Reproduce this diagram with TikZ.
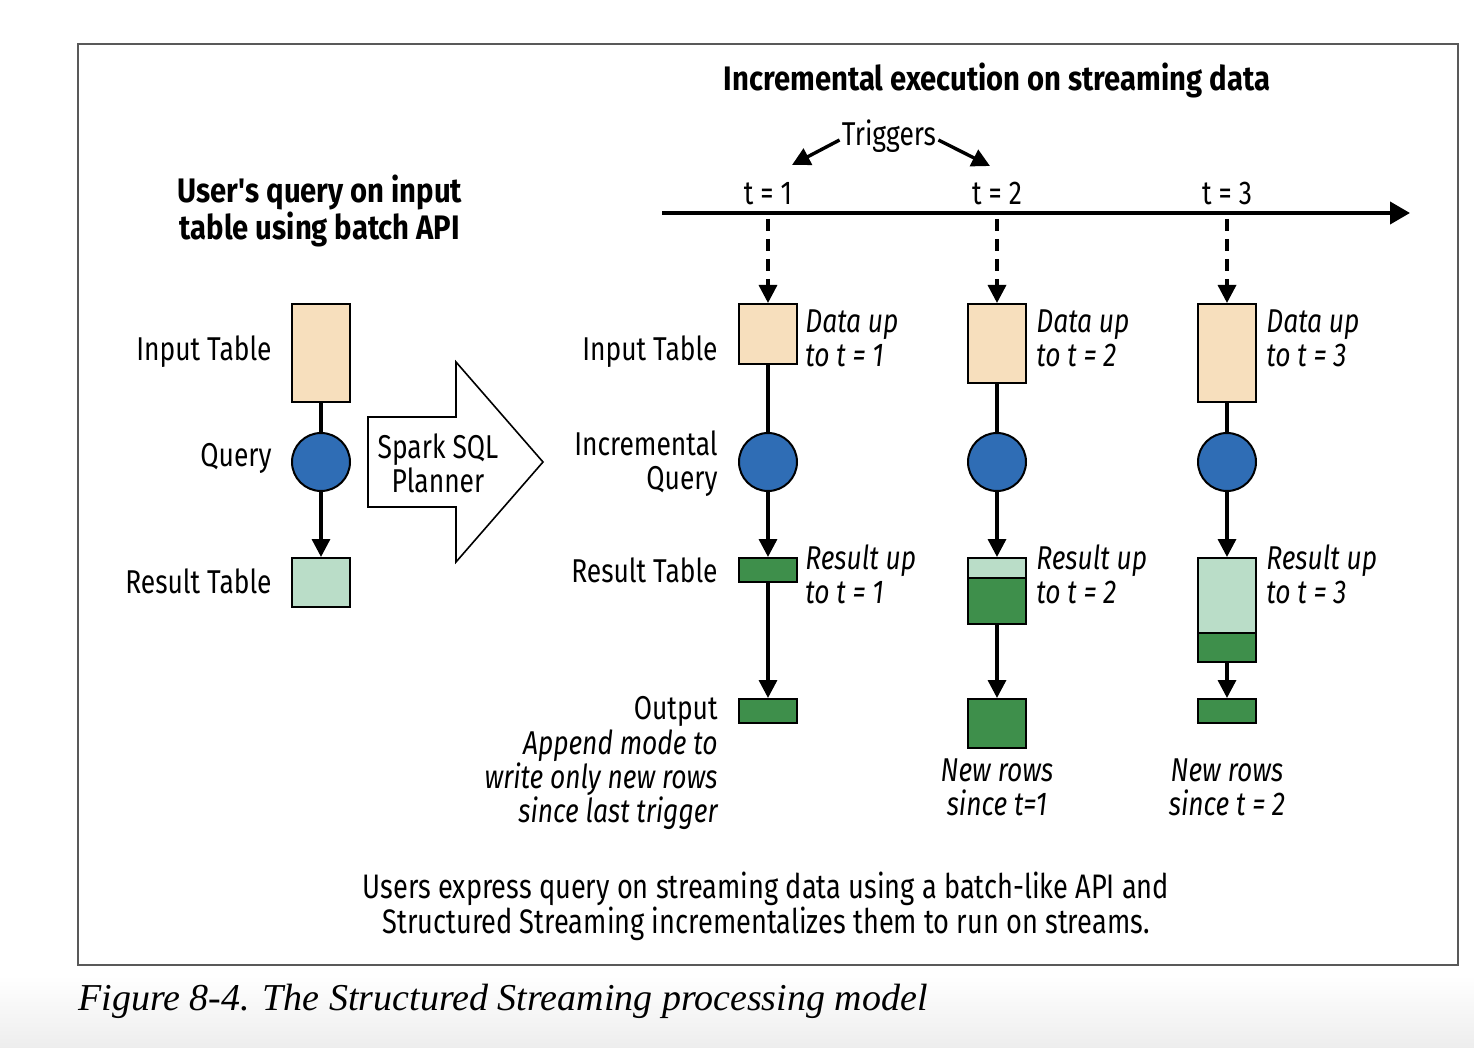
\documentclass[tikz,border=0pt]{standalone}
\usepackage{fontspec}
\setmainfont{Fira Sans}[FakeStretch=0.8]
\newfontfamily\headfont{Fira Sans}[FakeStretch=0.86]
\newfontfamily\capfont{Liberation Serif}
\usetikzlibrary{arrows.meta,positioning}
\definecolor{inputc}{HTML}{F7DFBD}
\definecolor{queryc}{HTML}{2F6DB5}
\definecolor{oldrow}{HTML}{BADDC8}
\definecolor{newrow}{HTML}{3E8F4B}

\tikzset{
  lbl/.style={inner sep=0pt,font=\fontsize{16.5}{17}\selectfont},
  head/.style={inner sep=0pt,font=\headfont\bfseries\fontsize{17}{17.5}\selectfont},
  note/.style={inner sep=0pt,font=\fontsize{16.5}{17}\selectfont\itshape,align=left},
  tbl/.style={draw,line width=1pt,minimum width=29pt,inner sep=0pt,anchor=north},
  qry/.style={draw,circle,line width=1pt,fill=queryc,minimum size=29pt,inner sep=0pt},
  flow/.style={line width=1.7pt},
  tip/.style={-{Triangle[length=9pt,width=9pt]}},
  trigline/.style={flow,tip,dash pattern=on 6pt off 4pt},
}

\begin{document}
\begin{tikzpicture}[x=0.5pt,y=-0.5pt]
\useasboundingbox (0,0) rectangle (1474,1048);
\shade[top color=white,bottom color=gray!14] (0,975) rectangle (1474,1048);
\draw[gray!70!black,line width=0.6pt] (78,44) rectangle (1458,965);

% batch side
\node[head,align=center] (batchttl) at (320,211) {User's query on input\\table using batch API};
\node[tbl,fill=inputc,minimum height=49pt] (bin) at (321,303) {};
\node[qry] (bq) at (321,462) {};
\node[tbl,fill=oldrow,minimum height=24.5pt] (bres) at (321,557) {};
\node[lbl,anchor=east] (binl) at (272,352) {Input Table};
\node[lbl,anchor=east] (bql) at (272,458) {Query};
\node[lbl,anchor=east] (bresl) at (272,581) {Result Table};
\draw[flow] (bin) -- (bq);
\draw[flow,tip] (bq) -- (bres);

% planner arrow
\draw[line width=0.8pt,fill=white] (368,417) -- (456,417) -- (456,362) -- (543,462)
  -- (456,562) -- (456,507) -- (368,507) -- cycle;
\node[lbl,align=center] (planner) at (438,463) {Spark SQL\\Planner};

% streaming side
\node[head] (streamttl) at (997,80) {Incremental execution on streaming data};
\coordinate (tstart) at (662,213);
\coordinate (tend) at (1410,213);
\draw[line width=2pt,-{Triangle[length=10pt,width=11pt]}] (tstart) -- (tend);
\node[lbl,anchor=south] (t1) at (768,205) {t = 1};
\node[lbl,anchor=south] (t2) at (997,205) {t = 2};
\node[lbl,anchor=south] (t3) at (1227,205) {t = 3};
\node[lbl] (trig) at (889,136) {Triggers};
\coordinate (trigL) at (792,165);
\coordinate (trigR) at (990,166);
\draw[flow,tip] ([xshift=-1pt,yshift=-2pt]trig.west) -- (trigL);
\draw[flow,tip] ([xshift=1pt,yshift=-2pt]trig.east) -- (trigR);

\node[lbl,anchor=east] (inl) at (718,352) {Input Table};
\node[lbl,anchor=east,align=right] (ql) at (718,464) {Incremental\\Query};
\node[lbl,anchor=east] (resl) at (718,570) {Result Table};
\node[lbl,anchor=east] (outl) at (718,711) {Output};
\node[note,anchor=east,align=right] (appendl) at (718,780) {Append mode to\\write only new rows\\since last trigger};

% t = 1
\node[tbl,fill=inputc,minimum height=30pt] (in1) at (768,303) {};
\node[qry] (q1) at (768,462) {};
\node[tbl,fill=newrow,minimum height=12pt] (res1) at (768,557) {};
\node[tbl,fill=newrow,minimum height=12pt] (out1) at (768,698) {};
\node[note,anchor=west] (in1n) at (805,338) {Data up\\to t = 1};
\node[note,anchor=west] (res1n) at (805,574) {Result up\\to t = 1};
\draw[trigline] ([yshift=-3pt]t1.south |- tstart) -- (in1);
\draw[flow] (in1) -- (q1);
\draw[flow,tip] (q1) -- (res1);
\draw[flow,tip] (res1) -- (out1);

% t = 2
\node[tbl,fill=inputc,minimum height=39.5pt] (in2) at (997,303) {};
\node[qry] (q2) at (997,462) {};
\node[tbl,fill=oldrow,minimum height=10pt] (res2) at (997,557) {};
\node[tbl,fill=newrow,minimum height=23pt] (res2new) at (997,577) {};
\node[tbl,fill=newrow,minimum height=24.5pt] (out2) at (997,698) {};
\node[note,anchor=west] (in2n) at (1036,338) {Data up\\to t = 2};
\node[note,anchor=west] (res2n) at (1036,574) {Result up\\to t = 2};
\node[note,align=center] (new2) at (997,787) {New rows\\since t=1};
\draw[trigline] ([yshift=-3pt]t2.south |- tstart) -- (in2);
\draw[flow] (in2) -- (q2);
\draw[flow,tip] (q2) -- (res2);
\draw[flow,tip] (res2new) -- (out2);

% t = 3
\node[tbl,fill=inputc,minimum height=49pt] (in3) at (1227,303) {};
\node[qry] (q3) at (1227,462) {};
\node[tbl,fill=oldrow,minimum height=37.5pt] (res3) at (1227,557) {};
\node[tbl,fill=newrow,minimum height=14.5pt] (res3new) at (1227,632) {};
\node[tbl,fill=newrow,minimum height=12pt] (out3) at (1227,698) {};
\node[note,anchor=west] (in3n) at (1266,338) {Data up\\to t = 3};
\node[note,anchor=west] (res3n) at (1266,574) {Result up\\to t = 3};
\node[note,align=center] (new3) at (1227,787) {New rows\\since t = 2};
\draw[trigline] ([yshift=-3pt]t3.south |- tstart) -- (in3);
\draw[flow] (in3) -- (q3);
\draw[flow,tip] (q3) -- (res3);
\draw[flow,tip] (res3new) -- (out3);

\node[inner sep=0pt,align=center,font=\fontsize{17}{17.5}\selectfont] (summary) at (766,906) {Users express query on streaming data using a batch-like API and\\Structured Streaming incrementalizes them to run on streams.};

\node[inner sep=0pt,anchor=west,font=\capfont\itshape\fontsize{19}{19}\selectfont] (caption) at (78,1001) {Figure 8-4. The Structured Streaming processing model};
\end{tikzpicture}
\end{document}
